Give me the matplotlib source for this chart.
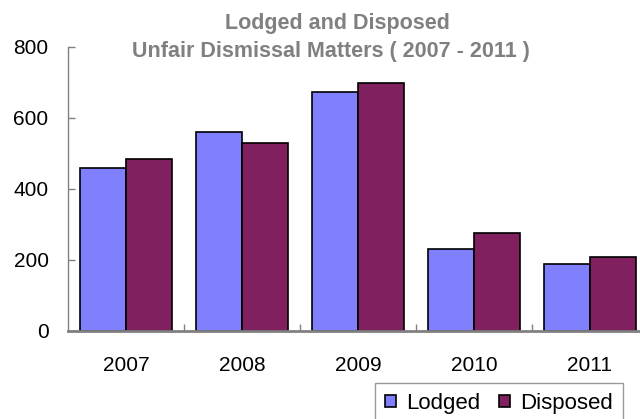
import matplotlib.pyplot as plt
import numpy as np

plt.rcParams['font.family'] = ['Liberation Sans', 'DejaVu Sans']

# --- DATA ---
years = ['2007', '2008', '2009', '2010', '2011']
lodged = [458, 561, 672, 230, 188]
disposed = [483, 530, 698, 275, 208]
y_ticks = [0, 200, 400, 600, 800]

# --- SETUP FIGURE ---
fig = plt.figure(figsize=(6.4, 4.19), dpi=100)
ax = fig.add_axes([68 / 640, 0.211, 580 / 640, 0.8885 - 0.211])

x = np.arange(len(years))
w = 0.4
ax.bar(x - w / 2, lodged, w, color='#8080FF', edgecolor='black', linewidth=1.2,
       label='Lodged', clip_on=False)
ax.bar(x + w / 2, disposed, w, color='#80205F', edgecolor='black', linewidth=1.2,
       label='Disposed', clip_on=False)

ax.set_xlim(-0.5, len(years) - 0.5)
ax.set_ylim(0, 800)
ax.set_yticks(y_ticks)
ax.set_xticks(x)
ax.set_xticklabels(years)
ax.set_xticks(np.arange(len(years)) + 0.5, minor=True)

ax.tick_params(axis='y', labelsize=15, length=5, width=1, color='#808080',
               direction='in', pad=14)
ax.tick_params(axis='x', which='major', labelsize=15, length=0, pad=18)
ax.tick_params(axis='x', which='minor', length=5, width=1, color='#808080', direction='in')

for s in ['top', 'right']:
    ax.spines[s].set_visible(False)
ax.spines['left'].set_color('#808080')
ax.spines['left'].set_linewidth(1)
ax.spines['bottom'].set_color('#808080')
ax.spines['bottom'].set_linewidth(2)

# --- TITLE ---
fig.text(337 / 640, 1 - 29 / 419, 'Lodged and Disposed', ha='center', va='baseline',
         fontsize=15.5, fontweight='bold', color='#808080')
fig.text(331 / 640, 1 - 57 / 419, 'Unfair Dismissal Matters ( 2007 - 2011 )',
         ha='center', va='baseline', fontsize=15.5, fontweight='bold', color='#808080')

# --- LEGEND ---
leg = fig.legend(loc='upper left', bbox_to_anchor=(375 / 640, 1 - 383 / 419), ncol=2,
                 fontsize=16, frameon=True, fancybox=False, edgecolor='#808080',
                 handlelength=0.5, handleheight=0.5, handletextpad=0.45,
                 columnspacing=0.85, borderaxespad=0, borderpad=0.45)
leg.get_frame().set_linewidth(1)

fig.savefig('out.png', dpi=100)
